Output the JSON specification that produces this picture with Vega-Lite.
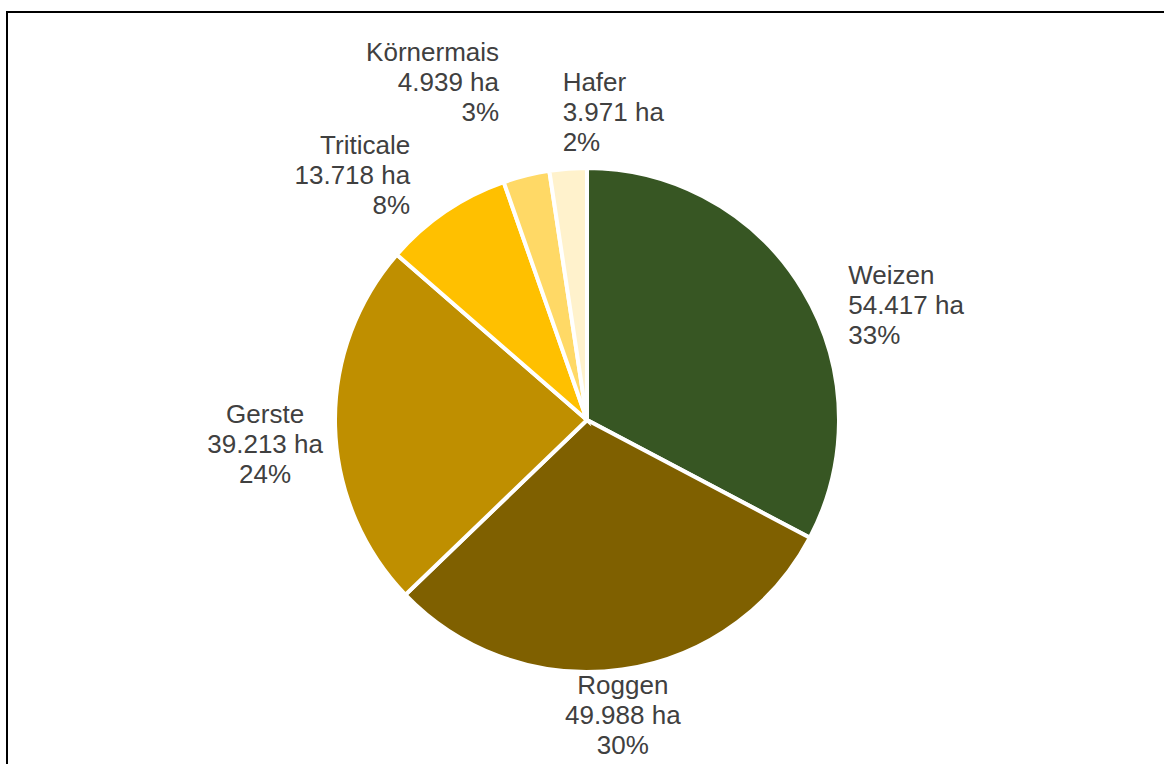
{
  "$schema": "https://vega.github.io/schema/vega-lite/v6.json",
  "width": 1160,
  "height": 816,
  "autosize": {"type": "none"},
  "padding": {"left": 7, "top": 12, "right": 0, "bottom": 0},
  "background": "white",
  "view": {"stroke": "#000000", "strokeWidth": 2, "fill": "white"},
  "config": {
    "text": {"font": "Liberation Sans"}
  },
  "data": {
    "values": [
      {"crop": "Weizen", "area": 54417, "label": "Weizen\n54.417 ha\n33%"},
      {"crop": "Roggen", "area": 49988, "label": "Roggen\n49.988 ha\n30%"},
      {"crop": "Gerste", "area": 39213, "label": "Gerste\n39.213 ha\n24%"},
      {"crop": "Triticale", "area": 13718, "label": "Triticale\n13.718 ha\n8%"},
      {"crop": "Körnermais", "area": 4939, "label": "Körnermais\n4.939 ha\n3%"},
      {"crop": "Hafer", "area": 3971, "label": "Hafer\n3.971 ha\n2%"}
    ]
  },
  "encoding": {
    "theta": {"field": "area", "type": "quantitative", "stack": true},
    "order": {"field": "area", "type": "quantitative", "sort": "descending"}
  },
  "layer": [
    {
      "mark": {"type": "arc", "radius": 252, "stroke": "#ffffff", "strokeWidth": 4},
      "encoding": {
        "color": {
          "field": "crop",
          "type": "nominal",
          "scale": {
            "domain": ["Weizen", "Roggen", "Gerste", "Triticale", "Körnermais", "Hafer"],
            "range": ["#375623", "#7f6000", "#bf8f00", "#ffc000", "#ffd966", "#fff2cc"]
          },
          "legend": null
        }
      }
    },
    {
      "mark": {"type": "text", "radius": 305, "align": "left", "baseline": "top", "fontSize": 26, "lineHeight": 30, "lineBreak": "\n", "color": "#404040"},
      "encoding": {"text": {"condition": {"test": "datum.crop === 'Weizen'", "field": "label", "type": "nominal"}, "value": ""}}
    },
    {
      "mark": {"type": "text", "radius": 256, "align": "center", "baseline": "top", "fontSize": 26, "lineHeight": 30, "lineBreak": "\n", "color": "#404040"},
      "encoding": {"text": {"condition": {"test": "datum.crop === 'Roggen'", "field": "label", "type": "nominal"}, "value": ""}}
    },
    {
      "mark": {"type": "text", "radius": 322, "align": "center", "baseline": "bottom", "fontSize": 26, "lineHeight": 30, "lineBreak": "\n", "color": "#404040"},
      "encoding": {"text": {"condition": {"test": "datum.crop === 'Gerste'", "field": "label", "type": "nominal"}, "value": ""}}
    },
    {
      "mark": {"type": "text", "radius": 315, "align": "right", "baseline": "bottom", "fontSize": 26, "lineHeight": 30, "lineBreak": "\n", "color": "#404040"},
      "encoding": {"text": {"condition": {"test": "datum.crop === 'Triticale'", "field": "label", "type": "nominal"}, "value": ""}}
    },
    {
      "mark": {"type": "text", "radius": 365, "align": "right", "baseline": "bottom", "fontSize": 26, "lineHeight": 30, "lineBreak": "\n", "color": "#404040"},
      "encoding": {"text": {"condition": {"test": "datum.crop === 'Körnermais'", "field": "label", "type": "nominal"}, "value": ""}}
    },
    {
      "mark": {"type": "text", "radius": 325, "align": "left", "baseline": "bottom", "fontSize": 26, "lineHeight": 30, "lineBreak": "\n", "color": "#404040"},
      "encoding": {"text": {"condition": {"test": "datum.crop === 'Hafer'", "field": "label", "type": "nominal"}, "value": ""}}
    }
  ]
}
